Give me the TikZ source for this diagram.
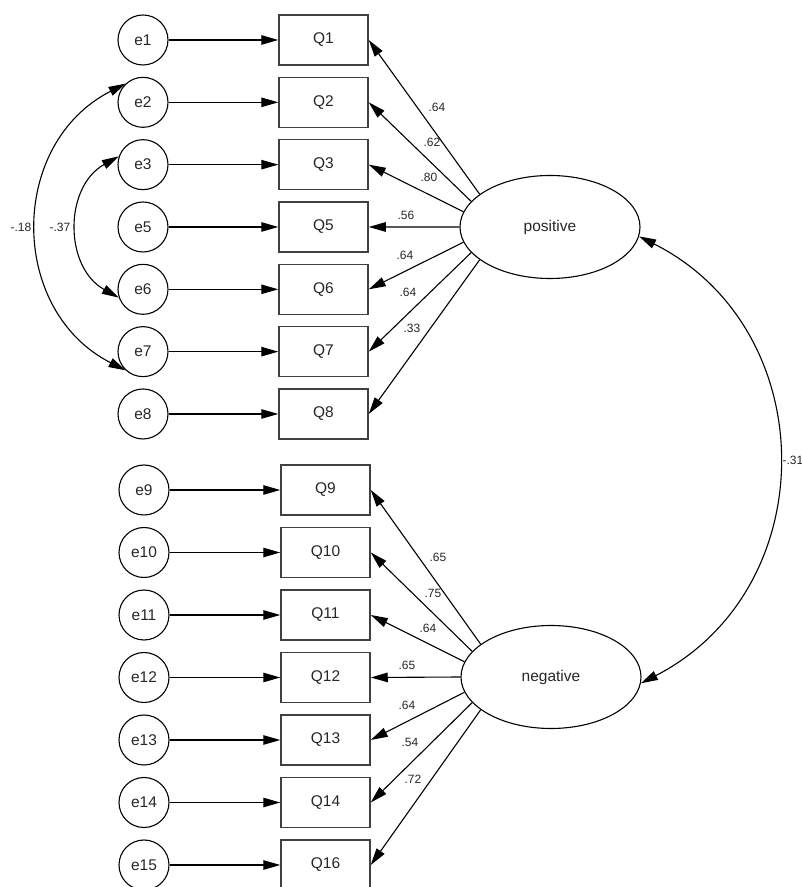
\documentclass[tikz,border=0pt]{standalone}
\usepackage{fontspec}
\setmainfont{Liberation Sans}
\usetikzlibrary{arrows.meta,shapes.geometric}

\begin{document}
\begin{tikzpicture}[x=1pt,y=1pt,>={Triangle[length=17pt,width=9.5pt]},line width=1.1pt,
  err/.style={draw,circle,minimum size=50pt,inner sep=0pt,text=black!85,font=\fontsize{15.5}{16}\selectfont},
  item/.style={draw=black!75,line width=1.5pt,minimum width=89pt,minimum height=50pt,inner sep=0pt,text=black!85,font=\fontsize{15.5}{16}\selectfont},
  factor/.style={draw,ellipse,minimum width=180pt,minimum height=103pt,inner sep=0pt,text=black!85,font=\fontsize{15.5}{16}\selectfont},
  coef/.style={text=black!85,font=\fontsize{12}{12}\selectfont,inner sep=1pt}]
\useasboundingbox (0,0) rectangle (802,887);
\clip (0,0) rectangle (802,887);
% latent factors
\node[factor] (positive) at (550,660){positive};
\node[factor] (negative) at (551,210){negative};
% error terms -> items, upper block
\foreach \e/\q [count=\k from 0] in {1/1,2/2,3/3,5/5,6/6,7/7,8/8}{
  \node[err] (e\e) at (143,847-62.33*\k){e\e};
  \node[item] (Q\q) at (323.5,847-62.33*\k){Q\q};
  \draw[->] (e\e) -- (Q\q);
}
% error terms -> items, lower block
\foreach \e/\q [count=\k from 0] in {9/9,10/10,11/11,12/12,13/13,14/14,15/16}{
  \node[err] (e\e) at (144,397-62.5*\k){e\e};
  \node[item] (Q\q) at (325.5,397-62.5*\k){Q\q};
  \draw[->] (e\e) -- (Q\q);
}
% loadings
\foreach \q/\a in {1/155,2/162,3/170,5/180,6/190,7/198,8/205}
  \draw[->] (positive.\a) -- (Q\q.east);
\foreach \q/\a in {9/155,10/162,11/170,12/180,13/190,14/198,16/205}
  \draw[->] (negative.\a) -- (Q\q.east);
\foreach \x/\y/\t [count=\n] in {437/780/.64,432/745/.62,429/710/.80,406/672/.56,405/632/.64,408/595/.64,412/559/.33,
  438/330/.65,433/294/.75,428/259/.64,407/222/.65,407/182/.64,410/145/.54,413/108/.72}
  \node[coef] (l\n) at (\x,\y){\t};
% covariances
\draw[<->] (e2.133) to[bend right=63,looseness=1.18] (e7.227);
\draw[<->] (e3.161) to[bend right=61,looseness=1.14] (e6.199);
\draw[<->] (positive.354) to[bend left=63,looseness=1.18] (negative.356);
\node[coef] (c18) at (21,660){-.18};
\node[coef] (c37) at (60,660){-.37};
\node[coef,anchor=west] (c31) at (781,427){-.31};
\end{tikzpicture}
\end{document}
